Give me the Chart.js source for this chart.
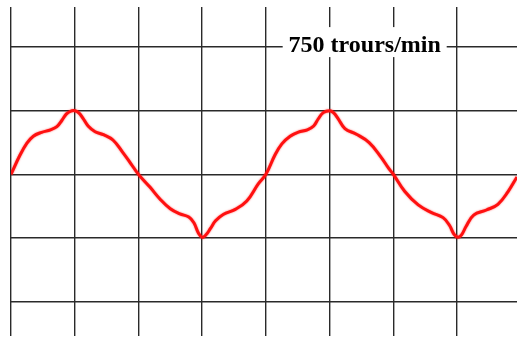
<!DOCTYPE html>
<html>
<head>
<meta charset="utf-8">
<script src="https://cdn.jsdelivr.net/npm/chart.js@4/dist/chart.umd.min.js"></script>
<style>
  html, body { margin: 0; padding: 0; background: #ffffff; }
  #wrap { width: 517px; height: 338px; }
</style>
</head>
<body>
<div id="wrap"><canvas id="scope" width="517" height="338"></canvas></div>
<script>
// Oscilloscope trace: time in screen divisions, amplitude in divisions
const timeDiv = [
  0.00, 0.14, 0.25, 0.35, 0.48, 0.62, 0.72, 0.80, 0.87, 0.94, 1.00, 1.06, 1.13, 1.21, 1.32,
  1.46, 1.60, 1.75, 1.88, 2.00, 2.18, 2.34, 2.50, 2.65, 2.79, 2.87, 2.94, 3.00, 3.06, 3.13,
  3.21, 3.33, 3.52, 3.70, 3.88, 4.00, 4.14, 4.25, 4.38, 4.51, 4.65, 4.75, 4.82, 4.90, 5.00,
  5.06, 5.13, 5.24, 5.42, 5.62, 5.80, 5.93, 6.00, 6.18, 6.39, 6.60, 6.78, 6.88, 6.95, 7.01,
  7.07, 7.14, 7.26, 7.46, 7.64, 7.80, 7.94
];
const voltsDiv = [
  0.00, 0.30, 0.49, 0.60, 0.66, 0.70, 0.75, 0.85, 0.95, 0.995, 1.00, 0.97, 0.88, 0.76, 0.67,
  0.62, 0.54, 0.35, 0.17, 0.00, -0.20, -0.39, -0.54, -0.62, -0.67, -0.76, -0.92, -0.99, -0.95, -0.85,
  -0.73, -0.63, -0.55, -0.42, -0.15, 0.00, 0.30, 0.48, 0.60, 0.665, 0.70, 0.76, 0.87, 0.97, 1.00,
  0.97, 0.88, 0.72, 0.63, 0.50, 0.28, 0.09, 0.00, -0.27, -0.48, -0.60, -0.68, -0.80, -0.94, -0.99,
  -0.95, -0.82, -0.64, -0.56, -0.47, -0.27, -0.04
];
const speedLabel = '750 trours/min';

const points = timeDiv.map((t, i) => ({ x: t, y: voltsDiv[i] }));

// keep only whole-division grid lines
const wholeDivisions = scale => {
  scale.ticks = scale.ticks.filter(t => Math.abs(t.value - Math.round(t.value)) < 1e-6);
};

// soft glow on the trace, like a phosphor beam
const beamPlugin = {
  id: 'beam',
  beforeDatasetsDraw(chart) {
    chart.ctx.save();
    chart.ctx.shadowColor = 'rgba(255,0,0,0.6)';
    chart.ctx.shadowBlur = 2;
  },
  afterDatasetsDraw(chart) {
    chart.ctx.restore();
  }
};

// boxed caption over the graticule
const captionPlugin = {
  id: 'caption',
  afterDatasetsDraw(chart) {
    const { ctx, scales } = chart;
    const cx = scales.x.getPixelForValue(5.55);
    const cy = scales.y.getPixelForValue(2);
    ctx.save();
    ctx.fillStyle = '#ffffff';
    ctx.fillRect(cx - 82, cy - 20, 164, 30);
    ctx.font = 'bold 24px "Liberation Serif"';
    ctx.fillStyle = '#000000';
    ctx.textAlign = 'center';
    ctx.textBaseline = 'alphabetic';
    ctx.fillText(speedLabel, cx, cy + 5);
    ctx.restore();
  }
};

new Chart(document.getElementById('scope'), {
  type: 'line',
  data: {
    datasets: [{
      data: points,
      borderColor: '#ff1010',
      borderWidth: 3,
      pointRadius: 0,
      fill: false,
      tension: 0.4
    }]
  },
  options: {
    responsive: false,
    animation: false,
    layout: { padding: { left: 11, top: 7, right: 0, bottom: 2 } },
    plugins: { legend: { display: false }, tooltip: { enabled: false } },
    scales: {
      x: {
        type: 'linear',
        min: 0,
        max: 7.94,
        ticks: { display: false, stepSize: 1 },
        afterBuildTicks: wholeDivisions,
        grid: { color: '#2a2a2a', lineWidth: 1.4, drawTicks: false },
        border: { display: false }
      },
      y: {
        type: 'linear',
        min: -2.54,
        max: 2.63,
        ticks: { display: false, stepSize: 1 },
        afterBuildTicks: wholeDivisions,
        grid: { color: '#2a2a2a', lineWidth: 1.4, drawTicks: false },
        border: { display: false }
      }
    }
  },
  plugins: [beamPlugin, captionPlugin]
});
</script>
</body>
</html>
